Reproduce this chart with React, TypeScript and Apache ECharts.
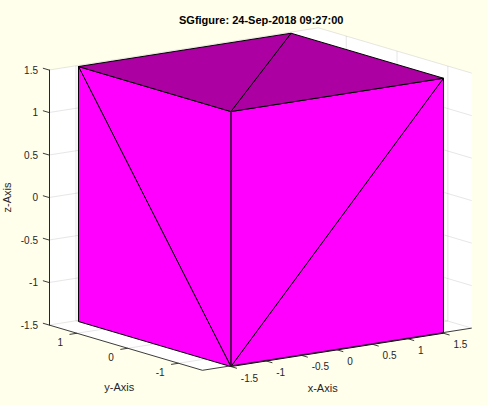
import React, { useEffect, useRef } from "react";
import * as echarts from "echarts";

const titleText = "SGfigure: 24-Sep-2018 09:27:00";
const xTicks = [-1.5, -1, -0.5, 0, 0.5, 1, 1.5];
const yTicks = [-1, 0, 1];
const zTicks = [-1.5, -1, -0.5, 0, 0.5, 1, 1.5];
const xLimits = [-1.88, 1.92];
const yLimits = [-1.47, 1.55];
const zLimits = [-1.5, 1.5];

const cubeVertices = [
  [-1.5, -1.5, -1.5],
  [1.5, -1.5, -1.5],
  [1.5, 1.5, -1.5],
  [-1.5, 1.5, -1.5],
  [-1.5, -1.5, 1.5],
  [1.5, -1.5, 1.5],
  [1.5, 1.5, 1.5],
  [-1.5, 1.5, 1.5],
];
const frontTriangles = [
  [0, 1, 5],
  [0, 5, 4],
  [0, 4, 7],
  [0, 7, 3],
];
const topTriangles = [
  [4, 5, 6],
  [4, 6, 7],
];

const BG = "#ffffeb";
const INK = "#262626";
const GRID = "rgba(38,38,38,0.13)";
const SIDE = "#ff00ff";
const TOP = "#ad00a3";
const FONT = '"Liberation Sans", Arial, sans-serif';

// orthographic view of the 3-D axes onto the grid (u, v)
const proj = (x: number, y: number, z: number) => [
  70.87 * (x - xLimits[0]) - 50.8 * (y - yLimits[1]),
  z + (11.1 * (x - xLimits[0]) + 15 * (y - yLimits[1])) / 85,
];

type Seg = [number[], number[], string];
const segs = (a: number[], b: number[], c: string): Seg => [a, b, c];
const [x0, x1] = xLimits;
const [y0, y1] = yLimits;
const [z0, z1] = zLimits;

const wallFaces = [
  [[x0, y1, z0], [x1, y1, z0], [x1, y1, z1], [x0, y1, z1]],
  [[x1, y1, z0], [x1, y0, z0], [x1, y0, z1], [x1, y1, z1]],
  [[x0, y0, z0], [x1, y0, z0], [x1, y1, z0], [x0, y1, z0]],
];

const gridSegs: Seg[] = [
  ...xTicks.flatMap((t) => [
    segs([t, y0, z0], [t, y1, z0], GRID),
    segs([t, y1, z0], [t, y1, z1], GRID),
  ]),
  ...yTicks.flatMap((t) => [
    segs([x0, t, z0], [x1, t, z0], GRID),
    segs([x1, t, z0], [x1, t, z1], GRID),
  ]),
  ...zTicks.flatMap((t) => [
    segs([x0, y1, t], [x1, y1, t], GRID),
    segs([x1, y1, t], [x1, y0, t], GRID),
  ]),
];

const axisSegs: Seg[] = [
  segs([x0, y1, z0], [x0, y0, z0], INK),
  segs([x0, y0, z0], [x1, y0, z0], INK),
  ...xTicks.map((t) => segs([t, y0, z0], [t, y0 - 0.15, z0], INK)),
  ...yTicks.map((t) => segs([x0, t, z0], [x0 - 0.105, t, z0], INK)),
  ...zTicks.map((t) => segs([x0, y1, t], [x0, y1 + 0.12, t], INK)),
];

const polySeries = (
  id: string,
  faces: number[][][],
  fill: string,
  stroke: string | null,
  z: number
) => ({
  id,
  type: "custom",
  coordinateSystem: "cartesian2d",
  z,
  silent: true,
  data: faces.map((f) => proj(f[0][0], f[0][1], f[0][2])),
  renderItem: (p: any, api: any) => ({
    type: "polygon",
    shape: {
      points: faces[p.dataIndex].map((v) => api.coord(proj(v[0], v[1], v[2]))),
    },
    style: { fill, stroke: stroke || "none", lineWidth: stroke ? 1 : 0 },
  }),
});

const lineSeries = (id: string, list: Seg[], z: number) => ({
  id,
  type: "custom",
  coordinateSystem: "cartesian2d",
  z,
  silent: true,
  data: list.map((s) => proj(s[0][0], s[0][1], s[0][2])),
  renderItem: (p: any, api: any) => {
    const [a, b, c] = list[p.dataIndex];
    const A = api.coord(proj(a[0], a[1], a[2]));
    const B = api.coord(proj(b[0], b[1], b[2]));
    return {
      type: "line",
      shape: { x1: A[0], y1: A[1], x2: B[0], y2: B[1] },
      style: { stroke: c, lineWidth: 0.9 },
    };
  },
});

type Lab = { t: string; p: number[]; dx: number; dy: number; align: string; size: number };
const labels: Lab[] = [
  ...xTicks.map((t) => ({ t: String(t), p: [t, y0, z0], dx: 11.5, dy: 12, align: "left", size: 10 })),
  ...yTicks.map((t) => ({ t: String(t), p: [x0, t, z0], dx: -14, dy: 9.3, align: "right", size: 10 })),
  { t: "x-Axis", p: [0, y0, z0], dx: -13, dy: 39, align: "center", size: 11 },
  { t: "y-Axis", p: [x0, 0, z0], dx: -8.5, dy: 39, align: "center", size: 11 },
];

const labelSeries = {
  id: "labels",
  type: "custom",
  coordinateSystem: "cartesian2d",
  z: 8,
  silent: true,
  data: labels.map((l) => proj(l.p[0], l.p[1], l.p[2])),
  renderItem: (p: any, api: any) => {
    const l = labels[p.dataIndex];
    const c = api.coord(proj(l.p[0], l.p[1], l.p[2]));
    return {
      type: "text",
      x: c[0] + l.dx,
      y: c[1] + l.dy,
      style: {
        text: l.t,
        fill: INK,
        font: `${l.size}px ${FONT}`,
        align: l.align,
        verticalAlign: "middle",
      },
    };
  },
};

export default function App() {
  const ref = useRef<HTMLDivElement>(null);
  useEffect(() => {
    document.body.style.margin = "0";
    const chart = echarts.init(ref.current!, null, { renderer: "svg" });
    chart.setOption({
      animation: false,
      backgroundColor: BG,
      title: {
        text: titleText,
        left: 174,
        top: 9,
        textStyle: { fontFamily: FONT, fontSize: 11, fontWeight: "bold", color: "#000" },
      },
      grid: { left: 49, top: 70, width: 430, height: 255, outerBoundsMode: "none" },
      xAxis: { type: "value", min: 0, max: 430, show: false },
      yAxis: {
        type: "value",
        min: zTicks[0],
        max: zTicks[zTicks.length - 1],
        interval: 0.5,
        z: 6,
        name: "z-Axis",
        nameLocation: "middle",
        nameGap: 37,
        nameMoveOverlap: false,
        nameRotate: 90,
        nameTextStyle: { fontFamily: FONT, fontSize: 11, color: INK },
        axisLine: { show: true, lineStyle: { color: INK, width: 1 } },
        axisTick: { show: false },
        splitLine: { show: false },
        axisLabel: {
          margin: 11,
          fontFamily: FONT,
          fontSize: 10,
          color: INK,
          padding: [0, 0, 6, 0],
        },
      },
      series: [
        polySeries("walls", wallFaces, "#ffffff", null, 1),
        lineSeries("grid", gridSegs, 2),
        polySeries(
          "cubeSides",
          frontTriangles.map((t) => t.map((i) => cubeVertices[i])),
          SIDE,
          "#000000",
          3
        ),
        polySeries(
          "cubeTop",
          topTriangles.map((t) => t.map((i) => cubeVertices[i])),
          TOP,
          "#000000",
          4
        ),
        lineSeries("axes", axisSegs, 5),
        labelSeries,
      ],
    });
    return () => chart.dispose();
  }, []);
  return <div ref={ref} style={{ width: 488, height: 405 }} />;
}
